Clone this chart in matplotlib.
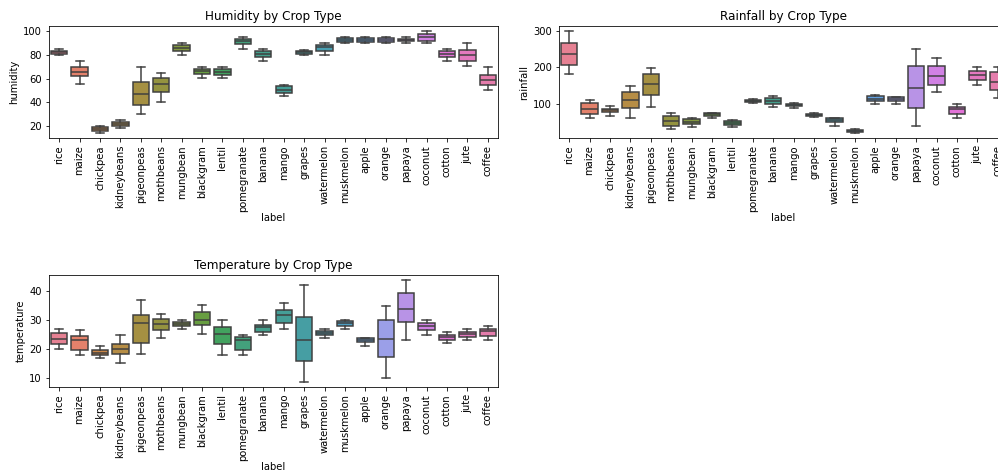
import colorsys
import matplotlib
matplotlib.use("Agg")
import matplotlib.pyplot as plt
import seaborn as sns

crops = ["rice", "maize", "chickpea", "kidneybeans", "pigeonpeas", "mothbeans",
         "mungbean", "blackgram", "lentil", "pomegranate", "banana", "mango",
         "grapes", "watermelon", "muskmelon", "apple", "orange", "papaya",
         "coconut", "cotton", "jute", "coffee"]

# five-number summaries per crop: lower whisker, Q1, median, Q3, upper whisker
humidity_lo  = [80.1, 55.3, 14.3, 18.1, 30.4, 40.0, 80.0, 60.1, 60.1, 85.1, 75.0, 45.0,
                80.0, 80.0, 90.0, 90.0, 90.0, 90.0, 90.0, 75.0, 70.9, 50.0]
humidity_q1  = [81.0, 61.8, 15.8, 19.7, 37.9, 48.6, 83.2, 63.5, 63.3, 89.0, 78.1, 48.0,
                81.0, 83.2, 91.2, 91.0, 91.1, 91.5, 91.8, 77.8, 75.0, 54.5]
humidity_med = [82.5, 65.7, 17.3, 21.9, 46.9, 55.4, 85.4, 66.0, 65.5, 91.3, 80.6, 50.6,
                82.0, 86.2, 92.6, 92.4, 92.5, 92.5, 95.0, 80.3, 79.5, 58.7]
humidity_q3  = [83.6, 69.9, 19.0, 23.7, 57.0, 60.1, 88.2, 68.3, 68.2, 93.2, 83.4, 53.4,
                83.0, 88.5, 93.8, 93.8, 93.8, 93.6, 97.2, 83.2, 83.7, 63.2]
humidity_hi  = [85.0, 74.8, 20.0, 25.0, 69.7, 65.0, 90.0, 70.0, 70.0, 95.0, 85.0, 55.0,
                84.0, 90.0, 95.0, 94.9, 95.0, 94.9, 100.0, 84.9, 89.9, 70.0]

rainfall_lo  = [182.6, 60.7, 65.1, 60.3, 90.1, 30.9, 36.1, 60.4, 35.0, 102.5, 90.1, 89.3,
                65.0, 40.1, 20.2, 100.1, 100.2, 40.4, 131.1, 60.7, 150.2, 115.2]
rainfall_q1  = [206.8, 73.1, 76.4, 89.0, 123.4, 39.1, 44.6, 66.3, 42.9, 105.5, 98.1, 92.5,
                67.5, 49.2, 22.5, 108.1, 107.1, 89.0, 151.6, 73.1, 166.0, 137.0]
rainfall_med = [235.8, 86.4, 82.0, 109.9, 155.2, 52.7, 51.1, 71.0, 48.4, 108.5, 107.1, 95.5,
                69.6, 54.6, 24.6, 113.6, 112.5, 143.5, 176.9, 84.5, 177.7, 158.7]
rainfall_q3  = [265.7, 102.7, 86.5, 131.6, 181.5, 66.3, 57.3, 74.5, 53.8, 111.0, 114.4, 98.0,
                72.4, 60.0, 27.2, 120.7, 118.1, 204.1, 202.2, 91.8, 190.5, 187.8]
rainfall_hi  = [298.6, 109.8, 94.8, 149.7, 198.8, 74.4, 59.9, 74.9, 54.9, 112.5, 119.9, 100.8,
                74.9, 59.8, 29.9, 125.0, 119.7, 248.9, 225.6, 99.9, 199.8, 199.5]

temperature_lo  = [20.0, 18.0, 17.0, 15.3, 18.3, 24.0, 27.0, 25.1, 18.1, 18.1, 25.0, 27.0,
                   8.8, 24.0, 27.0, 21.0, 10.0, 23.0, 25.0, 22.0, 23.1, 23.1]
temperature_q1  = [21.9, 19.8, 18.1, 18.2, 22.1, 26.6, 28.1, 28.3, 21.9, 19.9, 26.0, 29.0,
                   16.0, 24.9, 28.1, 22.5, 17.3, 29.2, 26.7, 23.3, 24.3, 24.4]
temperature_med = [23.6, 23.3, 18.8, 20.1, 29.1, 28.5, 28.8, 30.0, 25.2, 23.0, 27.6, 31.6,
                   23.3, 25.6, 29.1, 23.3, 23.5, 33.8, 28.0, 24.1, 25.2, 26.1]
temperature_q3  = [25.7, 24.7, 19.8, 21.8, 31.6, 30.4, 29.4, 32.6, 27.5, 24.1, 28.4, 33.5,
                   31.1, 26.3, 29.7, 23.7, 29.9, 39.3, 28.9, 25.0, 26.0, 26.8]
temperature_hi  = [26.9, 26.6, 21.0, 24.9, 37.0, 32.0, 29.9, 35.0, 29.9, 25.0, 29.9, 36.0,
                   42.0, 27.0, 29.9, 24.0, 34.9, 43.7, 29.9, 26.0, 27.0, 27.9]

panels = [
    ("humidity", "Humidity by Crop Type",
     (humidity_lo, humidity_q1, humidity_med, humidity_q3, humidity_hi)),
    ("rainfall", "Rainfall by Crop Type",
     (rainfall_lo, rainfall_q1, rainfall_med, rainfall_q3, rainfall_hi)),
    ("temperature", "Temperature by Crop Type",
     (temperature_lo, temperature_q1, temperature_med, temperature_q3, temperature_hi)),
]

# husl palette, desaturated, with a gray frame colour derived from it
fills = [sns.desaturate(c, 0.75) for c in sns.husl_palette(len(crops))]
lum = min(colorsys.rgb_to_hls(*c)[1] for c in fills) * 0.6
gray = (lum, lum, lum)

W, H, DPI = 998, 472, 72
fig = plt.figure(figsize=(W / DPI, H / DPI), dpi=DPI)

# axes boxes in pixels: left, top, width, height
boxes_px = [(49, 26, 449, 112), (559, 26, 449, 112), (49, 275, 449, 112)]

for (col, title, stats5), (lx, ty, w, h) in zip(panels, boxes_px):
    ax = fig.add_axes([lx / W, (H - ty - h) / H, w / W, h / H])
    lo, q1, med, q3, hi = stats5
    stats = [dict(whislo=a, q1=b, med=c, q3=d, whishi=e, label=n)
             for a, b, c, d, e, n in zip(lo, q1, med, q3, hi, crops)]
    art = ax.bxp(stats, positions=range(len(crops)), widths=0.8,
                 showfliers=False, patch_artist=True,
                 boxprops=dict(edgecolor=gray, linewidth=1.5),
                 whiskerprops=dict(color=gray, linewidth=1.5),
                 capprops=dict(color=gray, linewidth=1.5),
                 medianprops=dict(color=gray, linewidth=1.5))
    for patch, fc in zip(art["boxes"], fills):
        patch.set_facecolor(fc)
    ax.set_xlim(-0.5, len(crops) - 0.5)
    ax.set_xticks(range(len(crops)))
    ax.set_xticklabels(crops, rotation=90)
    ax.set_title(title)
    ax.set_xlabel("label", labelpad=1)
    ax.set_ylabel(col)

fig.savefig("out.png", dpi=DPI)
